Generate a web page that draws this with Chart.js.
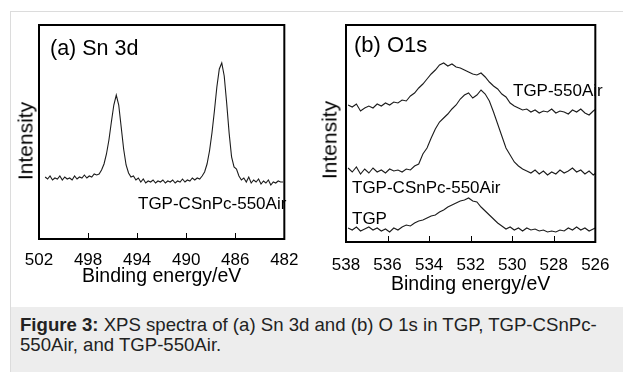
<!DOCTYPE html>
<html>
<head>
<meta charset="utf-8">
<script src="https://cdn.jsdelivr.net/npm/chart.js@4.4.1/dist/chart.umd.min.js"></script>
<style>
  body { margin: 0; background: #fff; font-family: "Liberation Sans", Arial, sans-serif; color: #000; }
  #page { position: relative; width: 623px; height: 372px; overflow: hidden; }
  #frame { position: absolute; left: 10px; top: 11px; right: 0; bottom: 0; border-top: 1px solid #dcdcdc; border-left: 1px solid #dcdcdc; }
  .panel { position: absolute; top: 0; }
  .lbl { position: absolute; white-space: nowrap; line-height: 1; color: #000; }
  .ytitle { position: absolute; white-space: nowrap; line-height: 1; font-size: 21px; transform: translate(-50%, -50%) rotate(-90deg); }
  #caption { position: absolute; left: 11px; top: 307px; width: 612px; height: 65px; background: #ededed; }
  #caption p { margin: 0; position: absolute; left: 9px; top: 8px; font-size: 18.6px; line-height: 20px; color: #222; }
</style>
</head>
<body>
<div id="page">
  <div id="frame"></div>

  <div class="panel" style="left:0px"><canvas id="chart-sn" width="310" height="300"></canvas></div>
  <div class="panel" style="left:310px"><canvas id="chart-o" width="313" height="310"></canvas></div>

  <div class="ytitle" style="left:25px; top:141px">Intensity</div>
  <div class="ytitle" style="left:329px; top:140px">Intensity</div>

  <div class="lbl" style="left:50px; top:37.5px; font-size:21.5px">(a) Sn 3d</div>
  <div class="lbl" style="left:138px; top:195px; font-size:17px">TGP-CSnPc-550Air</div>

  <div class="lbl" style="left:354px; top:34px; font-size:22px">(b) O1s</div>
  <div class="lbl" style="left:513px; top:82px; font-size:17px">TGP-550Air</div>
  <div class="lbl" style="left:352px; top:178.5px; font-size:17px">TGP-CSnPc-550Air</div>
  <div class="lbl" style="left:352px; top:209.5px; font-size:17px">TGP</div>

  <div id="caption">
    <p><b>Figure 3:</b> XPS spectra of (a) Sn 3d and (b) O 1s in TGP, TGP-CSnPc-<br>550Air, and TGP-550Air.</p>
  </div>
</div>

<script>
//SN 3D DATA (binding energy goes down from snStart by snStep)
const snStart = 501.5;
const snStep = 0.2;
const snTicks = [502, 498, 494, 490, 486, 482];
const snCSnPc = [
  62, 60, 63, 59, 61, 60, 63, 59, 62, 60, 61, 59, 63, 60, 62, 61, 64, 61, 63, 62, 65, 64,
  65, 69, 75, 85, 99, 117, 134, 144, 134, 112, 90, 74, 66, 62,
  63, 59, 61, 57, 60, 56, 58, 57, 59, 56, 58, 57, 59, 56, 58, 57, 59, 56, 58, 57, 60, 57, 59, 58, 61, 59, 61, 60,
  63, 67, 75, 88, 106, 128, 152, 170, 176, 163, 136, 106, 82, 72, 70, 63, 59,
  61, 57, 62, 56, 59, 57, 60, 55, 58, 56, 59, 54, 57, 56, 58, 57, 57
];

//O 1S DATA
const oStart = 537.9;
const oStep = 0.2;
const oTicks = [538, 536, 534, 532, 530, 528, 526];
const oTGP550 = [
  137, 135, 138, 131, 134, 136, 134, 138, 136, 139, 137, 140, 139, 142, 141,
  146, 149, 154, 158, 163, 168, 172, 177, 179, 176, 178, 175, 174, 172, 170,
  168, 167, 169, 165, 160, 156, 153, 148, 145, 139, 136, 134, 132, 133, 130,
  132, 129, 131, 130, 133, 129, 131, 130, 128, 132, 130, 133, 129, 127, 131,
  134
];
const oCSnPc = [
  74, 70, 75, 68, 73, 69, 74, 70, 72, 69, 73, 71, 72, 70, 73,
  72, 76, 78, 88, 94, 104, 113, 120, 124, 128, 133, 137, 143, 147, 149,
  144, 147, 152, 148, 141, 130, 118, 106, 94, 87, 80, 76, 73, 71, 69,
  72, 68, 71, 67, 70, 68, 72, 69, 71, 74, 70, 72, 68, 71, 67,
  70
];
const oTGP = [
  14, 12, 15, 11, 13, 15, 12, 14, 11, 13, 10, 14, 12, 15, 17,
  16, 19, 21, 22, 24, 26, 27, 30, 32, 35, 37, 39, 41, 42, 44,
  41, 40, 35, 31, 27, 23, 19, 16, 13, 15, 12, 14, 11, 14, 12,
  13, 11, 12, 10, 11, 10, 12, 11, 14, 12, 15, 12, 14, 11, 13,
  15
];

const family = '"Liberation Sans", Arial, sans-serif';

function toPoints(start, step, values) {
  return values.map((y, i) => ({ x: +(start - i * step).toFixed(1), y: y }));
}

//FRAME + INNER TICK MARKS
const frameTicks = {
  id: 'frameTicks',
  afterDraw(chart) {
    const ctx = chart.ctx;
    const a = chart.chartArea;
    const x = chart.scales.x;
    ctx.save();
    ctx.strokeStyle = '#000';
    ctx.lineWidth = 1;
    x.ticks.forEach(t => {
      if (t.value === x.min || t.value === x.max) return;
      let px = Math.round(x.getPixelForValue(t.value)) + 0.5;
      ctx.beginPath();
      ctx.moveTo(px, a.bottom);
      ctx.lineTo(px, a.bottom - 6);
      ctx.stroke();
    });
    ctx.lineWidth = 2;
    ctx.strokeRect(a.left, a.top, a.right - a.left, a.bottom - a.top);
    ctx.restore();
  }
};

function makeChart(id, cfg) {
  let datasets = cfg.series.map(s => ({
    data: toPoints(cfg.start, cfg.step, s),
    borderColor: '#1c1c1c',
    borderWidth: 1.1,
    pointRadius: 0,
    tension: 0,
    fill: false
  }));

  return new Chart(document.getElementById(id), {
    type: 'line',
    data: { datasets: datasets },
    options: {
      responsive: false,
      animation: false,
      devicePixelRatio: 1,
      layout: { padding: cfg.padding },
      plugins: { legend: { display: false }, tooltip: { enabled: false } },
      scales: {
        x: {
          type: 'linear',
          reverse: true,
          min: cfg.min,
          max: cfg.max,
          afterBuildTicks: s => { s.ticks = cfg.ticks.map(v => ({ value: v })); },
          ticks: { font: { family: family, size: 17 }, color: '#000', padding: cfg.tickPad, maxRotation: 0, autoSkip: false },
          grid: { display: false, drawTicks: false },
          border: { display: false },
          title: {
            display: true,
            text: 'Binding energy/eV',
            font: { family: family, size: 19.5 },
            color: '#000',
            padding: { top: 0, bottom: cfg.titlePad }
          },
          afterFit: s => { s.height = cfg.xHeight; }
        },
        y: { display: false, min: 0, max: cfg.ymax }
      }
    },
    plugins: [frameTicks]
  });
}

document.addEventListener('DOMContentLoaded', function () {
  makeChart('chart-sn', {
    series: [snCSnPc], start: snStart, step: snStep, ticks: snTicks,
    min: 482, max: 502, ymax: 214,
    padding: { left: 39, top: 25, right: 16, bottom: 0 },
    xHeight: 61, tickPad: 11.5, titlePad: 11.5
  });

  makeChart('chart-o', {
    series: [oTGP550, oCSnPc, oTGP], start: oStart, step: oStep, ticks: oTicks,
    min: 526, max: 538, ymax: 217,
    padding: { left: 36, top: 25, right: 16, bottom: 0 },
    xHeight: 68, tickPad: 13.5, titlePad: 14
  });
});
</script>
</body>
</html>
